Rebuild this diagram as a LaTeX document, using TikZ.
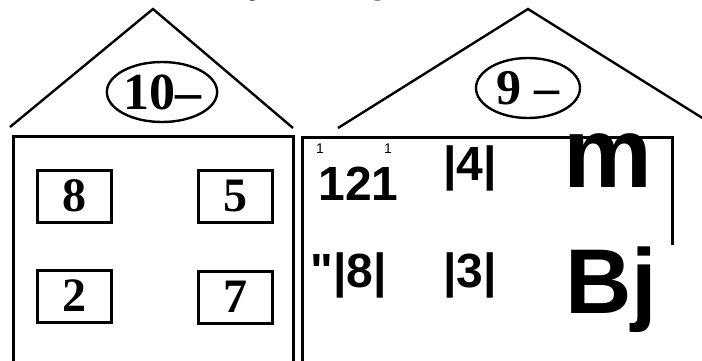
\documentclass[tikz,border=0pt]{standalone}
\usepackage{fontspec}
\setmainfont{Liberation Serif}
\newfontfamily\marksans{Liberation Sans}
\usetikzlibrary{shapes.geometric}

\begin{document}
\begin{tikzpicture}[x=0.5pt,y=-0.5pt,
    roof/.style={line width=1.2pt},
    wall/.style={line width=1.5pt},
    sign/.style={draw,ellipse,line width=1.2pt,inner sep=0pt},
    card/.style={draw,rectangle,line width=1.5pt,minimum width=37pt,minimum height=26pt,inner sep=0pt,font=\bfseries\fontsize{24}{24}\selectfont},
    glyph/.style={anchor=base west,inner sep=0pt,font=\marksans\bfseries\fontsize{24}{24}\selectfont}]
    \useasboundingbox (0,0) rectangle (702,360);
    % line of text above, cut off
    \node[anchor=base,inner sep=0pt,font=\itshape\fontsize{20}{20}\selectfont] (tail1) at (262,-8) {y};
    \node[anchor=base,inner sep=0pt,font=\itshape\fontsize{20}{20}\selectfont] (tail2) at (381,-8) {g};
    % left house
    \draw[roof] (10,127) -- (153,9) -- (293,128);
    \node[sign,minimum width=55pt,minimum height=30pt] (sign1) at (162,92) {\bfseries\fontsize{26}{26}\selectfont 10--};
    \draw[wall] (13,365) -- (13,136) -- (293,136) -- (293,365);
    \node[card] (c8) at (74,196) {8};
    \node[card] (c5) at (235,196) {5};
    \node[card] (c2) at (74,296) {2};
    \node[card] (c7) at (235,297) {7};
    % right house
    \draw[roof] (338,128) -- (528,9) -- (712,124);
    \node[sign,minimum width=52pt,minimum height=30pt] (sign2) at (528,88) {\bfseries\fontsize{25}{25}\selectfont 9 --};
    \draw[wall] (302,365) -- (302,137) -- (672,137) -- (672,245);
    \node[glyph] (g121) at (318,200) {121};
    \node[anchor=base,inner sep=0pt,font=\marksans\fontsize{7}{7}\selectfont] (s1) at (320,153) {1};
    \node[anchor=base,inner sep=0pt,font=\marksans\fontsize{7}{7}\selectfont] (s2) at (388,153) {1};
    \node[glyph] (g4) at (443,180) {|4|};
    \node[glyph] (g8) at (310,287) {"|8|};
    \node[glyph] (g3) at (443,287) {|3|};
    \node[glyph,font=\marksans\bfseries\fontsize{50}{50}\selectfont] (gm) at (563,187) {m};
    \node[glyph,font=\marksans\bfseries\fontsize{46}{46}\selectfont] (gbj) at (565,313) {Bj};
\end{tikzpicture}
\end{document}
